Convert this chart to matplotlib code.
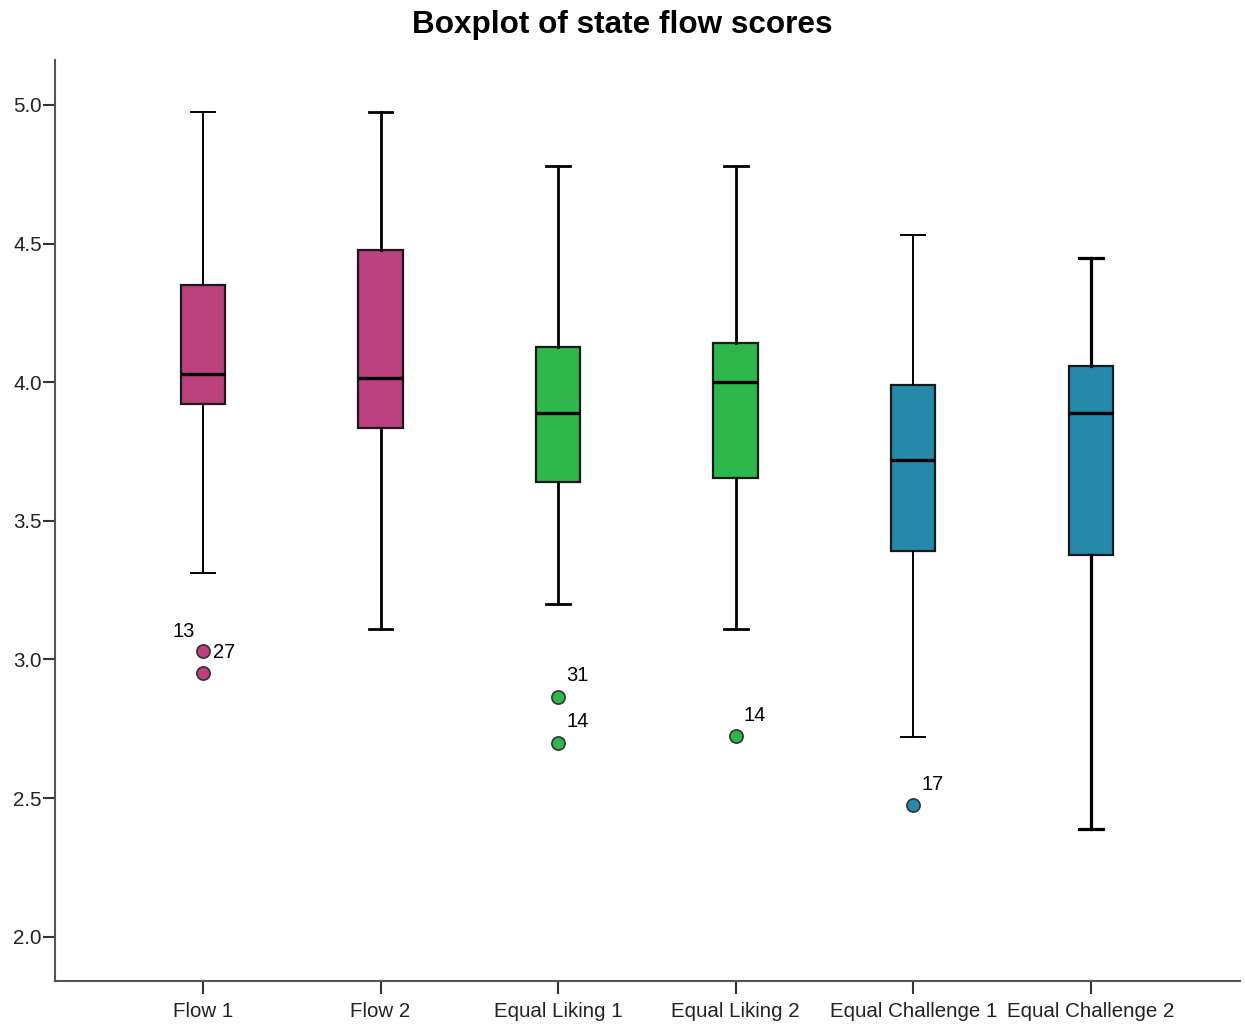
import matplotlib
matplotlib.use("Agg")
import matplotlib.pyplot as plt

categories = ["Flow 1", "Flow 2", "Equal Liking 1", "Equal Liking 2",
              "Equal Challenge 1", "Equal Challenge 2"]
whis_lo = [3.31, 3.11, 3.20, 3.11, 2.72, 2.39]
q1 = [3.92, 3.835, 3.64, 3.655, 3.39, 3.375]
median = [4.03, 4.015, 3.89, 4.00, 3.72, 3.89]
q3 = [4.35, 4.475, 4.127, 4.142, 3.99, 4.057]
whis_hi = [4.975, 4.975, 4.78, 4.78, 4.53, 4.448]
outliers = [[3.03, 2.95], [], [2.865, 2.70], [2.722], [2.475], []]
outlier_labels = [["13", "27"], [], ["31", "14"], ["14"], ["17"], []]
colors = ["#BC407D", "#BC407D", "#2EB84B", "#2EB84B", "#2589AA", "#2589AA"]
whisker_lw = [1.4, 2.0, 2.0, 2.0, 1.4, 2.3]

plt.rcParams['font.family'] = ['Liberation Sans', 'DejaVu Sans']

fig = plt.figure(figsize=(12.45, 10.28), dpi=100)
ax = fig.add_axes([55/1245, 1-981/1028, (1240-55)/1245, (981-60)/1028])

positions = list(range(1, len(categories)+1))
stats = []
for i, c in enumerate(categories):
    stats.append(dict(label=c, whislo=whis_lo[i], q1=q1[i], med=median[i],
                      q3=q3[i], whishi=whis_hi[i], fliers=[]))

for i, s in enumerate(stats):
    ax.bxp([s], positions=[positions[i]], widths=0.25, patch_artist=True,
           showfliers=False, manage_ticks=False,
           boxprops=dict(facecolor=colors[i], edgecolor="#1a1a1a", linewidth=1.6),
           medianprops=dict(color="black", linewidth=2.4),
           whiskerprops=dict(color="black", linewidth=whisker_lw[i]),
           capprops=dict(color="black", linewidth=whisker_lw[i]),
           capwidths=0.135)

for i, outs in enumerate(outliers):
    for j, v in enumerate(outs):
        ax.plot(positions[i], v, 'o', markersize=9.5, markerfacecolor=colors[i],
                markeredgecolor="#333333", markeredgewidth=1.2, zorder=5)
for i, outs in enumerate(outliers):
    labs = outlier_labels[i]
    if i == 0:
        ax.annotate(labs[0], (positions[i], outs[0]), xytext=(-14, 14),
                    textcoords="offset points", ha="center", va="center", fontsize=14.5)
        ax.annotate(labs[1], (positions[i], outs[0]), xytext=(15, -1),
                    textcoords="offset points", ha="center", va="center", fontsize=14.5)
    else:
        for j, v in enumerate(outs):
            ax.annotate(labs[j], (positions[i], v), xytext=(14, 15),
                        textcoords="offset points", ha="center", va="center",
                        fontsize=14.5)

ax.set_xlim(0.167, 6.84)
ax.set_ylim(1.84, 5.162)
ax.set_xticks(positions)
ax.set_xticklabels(categories, fontsize=14.8)
ax.set_yticks([2.0, 2.5, 3.0, 3.5, 4.0, 4.5, 5.0])
ax.set_yticklabels(["2.0", "2.5", "3.0", "3.5", "4.0", "4.5", "5.0"], fontsize=14.8)
for sp in ["top", "right"]:
    ax.spines[sp].set_visible(False)
for sp in ["left", "bottom"]:
    ax.spines[sp].set_color("#555555")
    ax.spines[sp].set_linewidth(1.5)
ax.tick_params(axis="both", direction="out", length=9, width=1.5, color="#333333",
               labelcolor="#222222")
ax.tick_params(axis="y", pad=0.5)
ax.tick_params(axis="x", pad=6)

fig.text(0.5, 1-25/1028, "Boxplot of state flow scores", ha="center", va="center",
         fontsize=22.7, fontweight="bold")

fig.savefig("out.png", dpi=100)
